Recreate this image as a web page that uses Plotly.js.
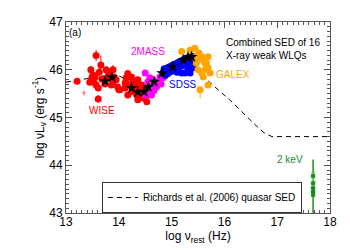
<!DOCTYPE html>
<html><head><meta charset="utf-8">
<script src="https://cdn.plot.ly/plotly-3.0.1.min.js"></script>
<style>html,body{margin:0;padding:0;background:#fff}#chart{width:350px;height:250px}</style>
</head><body><div id="chart"></div>
<script>
// Richards et al. (2006) quasar SED (dashed)
const sedNu = [13.0, 13.2, 13.42, 13.7, 13.97, 14.15, 14.3, 14.45, 14.6, 14.75, 14.9, 15.1, 15.25, 15.35, 15.42, 15.5, 15.8, 16.1, 16.58, 16.75, 16.9, 18.0];
const sedL  = [45.74, 45.78, 45.83, 45.87, 45.89, 45.79, 45.62, 45.52, 45.55, 45.68, 45.85, 46.05, 46.17, 46.22, 46.15, 45.97, 45.66, 45.37, 44.85, 44.68, 44.6, 44.6];

// WISE (red)
const wiseNu = [13.21,13.47,13.51,13.49,13.53,13.55,13.57,13.61,13.63,13.66,13.57,13.61,13.76,13.80,13.82,13.89,13.91,13.95,13.98,14.00,14.14,14.14,13.89,13.80,13.74,13.45,13.68,13.86,14.02,14.12,14.12,14.17,14.17,14.24,14.27,14.31,14.24,14.34,14.36,14.27,14.40,14.43,14.46,14.34,14.40,14.50,14.46,14.36,14.55,14.53,14.30,14.38,14.44];
const wiseL  = [45.76,46.00,45.89,45.83,45.74,45.85,46.30,45.39,45.95,46.10,45.68,45.62,46.00,45.95,45.89,46.00,45.85,45.79,45.64,45.58,45.83,45.73,45.74,45.83,45.70,45.74,45.80,45.68,45.58,45.72,45.62,45.47,45.92,45.85,45.75,45.68,45.65,45.62,45.79,45.54,45.54,45.68,45.51,45.47,45.44,45.62,45.41,45.37,45.47,45.33,45.58,45.60,45.58];
const wiseErr = [0,0.08,0,0,0,0,0.12,0.08,0.15,0.2,0,0,0,0,0,0.1,0,0,0,0.06,0,0,0,0,0,0,0,0,0,0,0,0,0,0,0,0,0,0,0,0,0,0,0,0,0,0,0,0,0,0,0,0,0];
const wiseLimNu = 13.34, wiseLimL = 45.53;

// 2MASS (magenta)
const tmassNu = [14.50,14.55,14.59,14.62,14.65,14.69,14.72,14.75,14.78,14.84,14.91,14.55,14.62,14.50,14.66,14.70,14.80,14.88];
const tmassL  = [45.93,45.75,45.83,45.68,45.79,45.62,45.65,45.75,45.85,45.83,45.96,45.54,45.47,45.47,45.56,45.72,45.70,45.90];

// SDSS (blue)
const sdssNu = [14.84,14.86,14.88,14.90,14.92,14.93,14.95,14.97,14.98,15.00,15.02,15.03,15.05,15.07,15.08,15.10,15.12,15.13,15.15,15.17,15.18,15.20,15.22,15.23,15.25,15.27,15.28,15.30,15.32,15.33,15.35,15.37,15.38,15.40,15.42,15.44,15.19,15.25,15.35,15.41,15.10,15.30];
const sdssL  = [45.95,46.02,45.88,45.98,46.04,45.92,46.00,46.07,45.96,46.04,46.10,45.99,46.06,46.12,46.02,46.09,46.15,46.05,46.12,46.18,46.08,46.15,46.21,46.11,46.18,46.24,46.14,46.20,46.26,46.16,46.22,46.28,46.18,46.24,46.28,46.20,45.93,45.93,45.93,46.04,45.95,46.05];

// GALEX (orange)
const galexNu = [15.19,15.35,15.44,15.47,15.50,15.54,15.57,15.60,15.63,15.66,15.69,15.73,15.57,15.60,15.54,15.69,15.69,15.63,15.48,15.52,15.45];
const galexL  = [46.38,46.41,46.45,46.14,46.00,46.25,46.27,46.20,46.00,46.14,46.04,45.93,45.93,45.85,45.58,45.68,46.27,46.14,46.30,46.35,46.25];
const galexErrMinus = [0,0,0,0,0,0,0,0,0,0,0,0,0,0,0.17,0,0,0,0,0,0];

// Composite (black stars)
const compNu = [13.74,13.87,14.24,14.36,14.48,14.56,14.67,14.82,15.02,15.22,15.31,15.38];
const compL  = [45.76,45.84,45.62,45.53,45.54,45.64,45.75,45.93,46.06,46.20,46.26,46.27];

// 2 keV (green)
const xrayNu = 17.68;
const xrayRange = [44.12, 42.9];
const xrayL = [43.78,43.62,43.52,43.45,43.38];
const xrayL2 = [43.82,43.70,43.57,43.48,43.40];

const FONT = 'Liberation Sans, Arial, sans-serif';
const traces = [
  {x: sedNu, y: sedL, mode:'lines', line:{color:'#000', width:1, dash:'5px,4px'}, name:'Richards et al. (2006) quasar SED', showlegend:true},
  {x: wiseNu, y: wiseL, mode:'markers', marker:{color:'#ff0000', size:7}, error_y:{type:'data', array: wiseErr, color:'#ff0000', thickness:1, width:0}, showlegend:false},
  {x: tmassNu, y: tmassL, mode:'markers', marker:{color:'#ff00ff', size:7}, showlegend:false},
  {x: sdssNu, y: sdssL, mode:'markers', marker:{color:'#0000ff', size:7}, showlegend:false},
  {x: galexNu, y: galexL, mode:'markers', marker:{color:'#ffa500', size:7}, error_y:{type:'data', symmetric:false, array: galexErrMinus.map(()=>0), arrayminus: galexErrMinus, color:'#ffa500', thickness:1, width:0}, showlegend:false},
  {x: compNu, y: compL, mode:'markers', marker:{color:'#000', size:9, symbol:'star'}, showlegend:false},
  {x: [xrayNu, xrayNu], y: xrayRange, mode:'lines', line:{color:'#1a8c1a', width:1.5}, showlegend:false},
  {x: xrayL2.map(()=>xrayNu), y: xrayL2, mode:'markers', marker:{color:'#8fcf8f', size:5, symbol:'x-thin', line:{color:'#8fcf8f', width:1}}, showlegend:false},
  {x: xrayL.map(()=>xrayNu), y: xrayL, mode:'markers', marker:{color:'#1a8c1a', size:4, symbol:'square'}, showlegend:false}
];

const ann = (x, y, text, color, size, xanchor) => ({x, y, xref:'x', yref:'y', text, showarrow:false, font:{family:FONT, size, color}, xanchor: xanchor||'center', yanchor:'middle'});

const layout = {
  width:350, height:250,
  margin:{l:66, r:20, t:22, b:37},
  paper_bgcolor:'#fff', plot_bgcolor:'#fff',
  font:{family:FONT, size:12, color:'#000'},
  showlegend:true,
  legend:{x:0.136, y:0.0, xanchor:'left', yanchor:'bottom', bgcolor:'#fff', bordercolor:'#333', borderwidth:1, font:{family:FONT, size:10}, tracegroupgap:0},
  xaxis:{range:[13,18], dtick:1, tick0:13, ticks:'inside', ticklen:6, tickcolor:'#555', showline:true, linecolor:'#555', mirror:'allticks', showgrid:false, zeroline:false,
         minor:{dtick:0.1, ticks:'inside', ticklen:3, tickcolor:'#555', showgrid:false},
         ticklabelstandoff:-2,
         tickfont:{size:12}, title:{text:'log ν<sub>rest</sub> (Hz)', font:{size:12}, standoff:2}},
  yaxis:{range:[43,47], dtick:1, ticks:'inside', ticklen:6, tickcolor:'#555', showline:true, linecolor:'#555', mirror:'allticks', showgrid:false, zeroline:false,
         minor:{dtick:0.1, ticks:'inside', ticklen:3, tickcolor:'#555', showgrid:false},
         automargin:true,
         tickfont:{size:12}, title:{text:'log νL<sub>ν</sub> (erg s<sup>-1</sup>)', font:{size:12}, standoff:2}},
  annotations:[
    ann(13.17, 46.77, '(a)', '#000', 10),
    ann(16.0, 46.58, 'Combined SED of 16', '#000', 10, 'left'),
    ann(16.0, 46.29, 'X-ray weak WLQs', '#000', 10, 'left'),
    ann(14.55, 46.39, '2MASS', '#ff00ff', 10),
    ann(15.22, 45.70, 'SDSS', '#0000ff', 10),
    ann(16.16, 45.91, 'GALEX', '#ffa500', 10),
    ann(13.68, 45.14, 'WISE', '#ff0000', 10),
    ann(17.24, 44.13, '2 keV', '#1a8c1a', 10),
    {x: wiseLimNu, y: wiseLimL - 0.08, ax: wiseLimNu, ay: wiseLimL + 0.08, xref:'x', yref:'y', axref:'x', ayref:'y', text:'', showarrow:true, arrowhead:2, arrowsize:0.8, arrowwidth:1, arrowcolor:'#ff8080'}
  ]
};
Plotly.newPlot('chart', traces, layout, {displayModeBar:false, staticPlot:true});
</script></body></html>
